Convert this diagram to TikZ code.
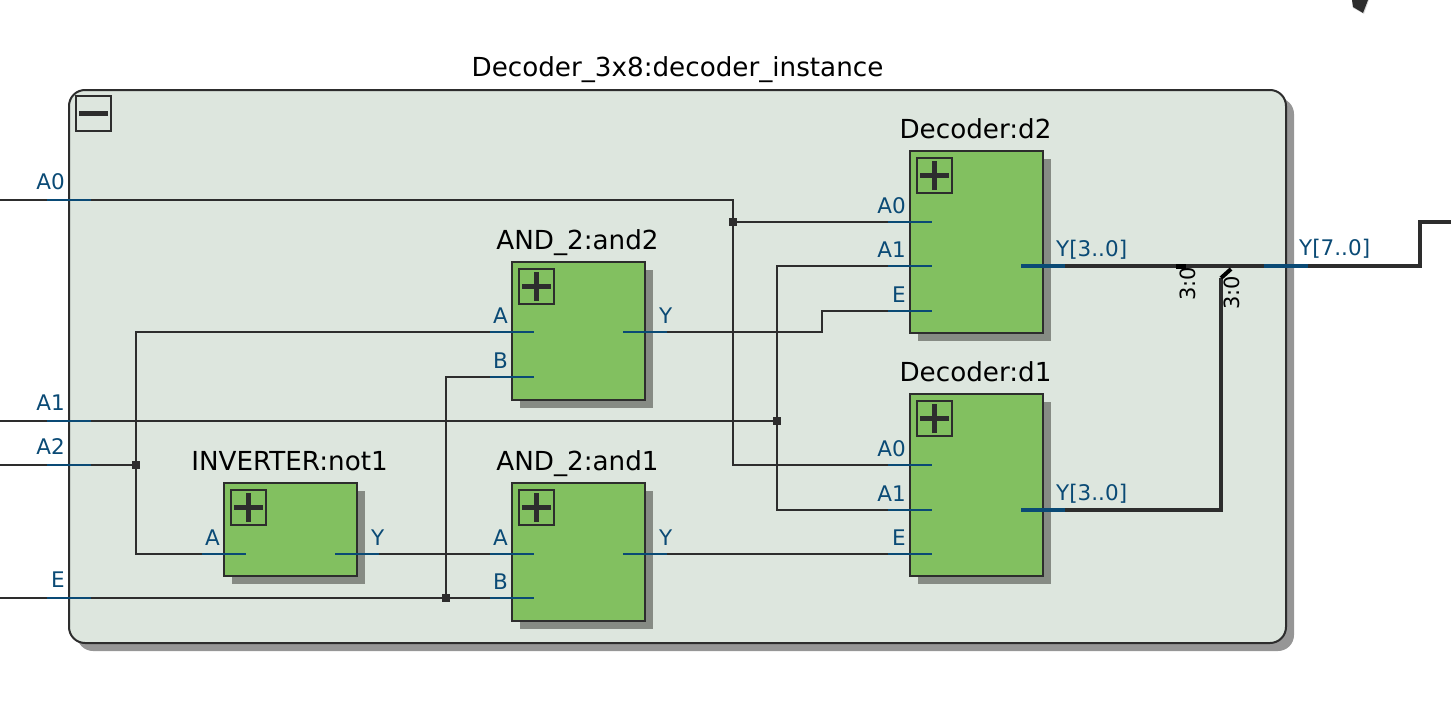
\documentclass[tikz,border=0pt]{standalone}
\usepackage{fontspec}
\setmainfont{DejaVu Sans}
\usetikzlibrary{positioning, shadows}
\definecolor{wirecol}{HTML}{2D2D2D}
\definecolor{pincol}{HTML}{0A4A75}
\definecolor{blockcol}{HTML}{82C060}
\definecolor{maincol}{HTML}{DDE6DE}
\definecolor{shadowcol}{HTML}{969696}
\definecolor{innershadow}{HTML}{868B84}
\begin{document}
\begin{tikzpicture}
	[x=1pt, y=-1pt,%
	main/.style  ={rectangle, rounded corners=16pt, draw=wirecol, fill=maincol, line width=2pt, inner sep=0pt, outer sep=0pt, minimum width=1217pt, minimum height=553pt, anchor=north west, drop shadow={shadow xshift=8pt, shadow yshift=-8pt, fill=shadowcol, opacity=1}},%
	block/.style ={rectangle, draw=wirecol, fill=blockcol, line width=2pt, inner sep=0pt, outer sep=0pt, minimum width=133pt, anchor=north west, drop shadow={shadow xshift=8pt, shadow yshift=-8pt, fill=innershadow, opacity=1}},%
	toggle/.style={rectangle, draw=wirecol, line width=2pt, inner sep=0pt, minimum size=35pt},%
	glyph/.style ={draw=wirecol, line width=5pt},%
	title/.style ={font=\fontsize{26.2}{30}\selectfont, text=black, inner sep=0pt, anchor=base},%
	pinlab/.style={font=\fontsize{21.5}{26}\selectfont, text=pincol, inner sep=0pt},%
	buslab/.style={font=\fontsize{21}{24}\selectfont, text=black, inner sep=0pt, rotate=90},%
	wire/.style  ={draw=wirecol, line width=2pt},%
	bus/.style   ={draw=wirecol, line width=4pt, line join=miter},%
	stub/.style  ={draw=pincol, line width=2pt},%
	busstub/.style={draw=pincol, line width=4pt},%
	joint/.style ={rectangle, fill=wirecol, inner sep=0pt, minimum size=8pt},%
	]

	\useasboundingbox (0,0) rectangle (1451,701);

	% top corner
	\fill [black!15] (1352,0) -- (1353,8) -- (1364,14) -- (1369,0) -- cycle;
	\fill [wirecol] (1352,0) -- (1353,7) -- (1363,13) -- (1368,0) -- cycle;

	% blocks
	\node (decoder) at (69,90) [main] {};
	\node (d2) at (910,151) [block, minimum height=182pt] {};
	\node (d1) at (910,394) [block, minimum height=182pt] {};
	\node (and2) at (512,262) [block, minimum height=138pt] {};
	\node (and1) at (512,483) [block, minimum height=138pt] {};
	\node (not1) at (224,483) [block, minimum height=93pt] {};

	% titles
	\node (decodertitle) at ([yshift=13pt]decoder.north) [title] {Decoder\_3x8:decoder\_instance};
	\foreach \b/\t in {d2/Decoder:d2, d1/Decoder:d1, and2/AND\_2:and2, and1/AND\_2:and1, not1/INVERTER:not1}
		\node (\b title) at ([xshift=-1pt,yshift=12.5pt]\b.north) [title] {\t};

	% toggles
	\node (decodertoggle) at (93.5,113.5) [toggle] {};
	\draw [glyph] ([xshift=-14.5pt]decodertoggle.center) -- ([xshift=14.5pt]decodertoggle.center);
	\foreach \b in {d2,d1,and2,and1,not1} {
		\node (\b toggle) at ([xshift=24.5pt,yshift=-24.5pt]\b.north west) [toggle] {};
		\draw [glyph] ([xshift=-14.5pt]\b toggle.center) -- ([xshift=14.5pt]\b toggle.center);
		\draw [glyph] ([yshift=-14.5pt]\b toggle.center) -- ([yshift=14.5pt]\b toggle.center);
	}

	% pins
	\foreach \n/\x/\y in {%
		inA0/69/200, inA1/69/421, inA2/69/465, inE/69/598,%
		dtwoA0/910/222, dtwoA1/910/266, dtwoE/910/311,%
		doneA0/910/465, doneA1/910/510, doneE/910/554,%
		andtwoA/512/332, andtwoB/512/377,%
		andoneA/512/554, andoneB/512/598,%
		notA/224/554,%
		andtwoY/645/332, andoneY/645/554, notY/357/554,%
		dtwoY/1043/266, doneY/1043/510, outY/1286/266} {
		\coordinate (\n a) at (\x-22,\y);
		\coordinate (\n b) at (\x+22,\y);
		\coordinate (\n) at (\x,\y);
	}

	% free ends
	\coordinate (startA0) at (0,200);
	\coordinate (startA1) at (0,421);
	\coordinate (startA2) at (0,465);
	\coordinate (startE) at (0,598);
	\coordinate (endY) at (1451,222);
	\coordinate (bendY) at (1420,266);
	\coordinate (bendE) at (822,311);
	\coordinate (tapY) at (1221,278);
	\coordinate (tapZ) at (1231,269);
	\coordinate (tickA) at (1176,266.5);
	\coordinate (tickB) at (1186,266.5);

	% junctions
	\node (jA0) at (733,222) [joint] {};
	\node (jA1) at (777,421) [joint] {};
	\node (jA2) at (136,465) [joint] {};
	\node (jE) at (446,598) [joint] {};

	% interconnections
	\draw [wire] (startA0) -| (jA0.center) |- (doneA0);
	\draw [wire] (jA0.center) -- (dtwoA0);
	\draw [wire] (startA1) -- (jA1.center);
	\draw [wire] (dtwoA1) -| (jA1.center) |- (doneA1);
	\draw [wire] (startA2) -- (jA2.center);
	\draw [wire] (andtwoA) -| (jA2.center) |- (notA);
	\draw [wire] (startE) -- (andoneB);
	\draw [wire] (jE.center) |- (andtwoB);
	\draw [wire] (notY) -- (andoneA);
	\draw [wire] (andoneY) -- (doneE);
	\draw [wire] (andtwoY) -| (bendE) -- (dtwoE);

	% buses
	\draw [bus] (dtwoY) -- (bendY) |- (endY);
	\draw [bus] (doneY) -| (tapY);
	\draw [line width=4pt, draw=black] (tapY) -- (tapZ);
	\draw [line width=5pt, draw=black] (tickA) -- (tickB);
	\node (split2) at (1188,284) [buslab] {3:0};
	\node (split1) at (1232,293) [buslab] {3:0};

	% pin stubs and labels
	\foreach \n/\t in {inA0/A0, inA1/A1, inA2/A2, inE/E} {
		\draw [stub] (\n a) -- (\n b);
		\node (\n lab) at ([xshift=-4pt,yshift=11pt]\n) [pinlab, anchor=base east] {\t};
	}
	\foreach \n/\t in {dtwoA0/A0, dtwoA1/A1, dtwoE/E, doneA0/A0, doneA1/A1, doneE/E, andtwoA/A, andtwoB/B, andoneA/A, andoneB/B, notA/A} {
		\draw [stub] (\n a) -- (\n b);
		\node (\n lab) at ([xshift=-4pt,yshift=9pt]\n) [pinlab, anchor=base east] {\t};
	}
	\foreach \n in {andtwoY, andoneY, notY} {
		\draw [stub] (\n a) -- (\n b);
		\node (\n lab) at ([xshift=14pt,yshift=9pt]\n) [pinlab, anchor=base west] {Y};
	}
	\foreach \n/\t/\s in {dtwoY/{Y[3..0]}/10, doneY/{Y[3..0]}/10, outY/{Y[7..0]}/11} {
		\draw [busstub] (\n a) -- (\n b);
		\node (\n lab) at ([xshift=13pt,yshift=\s pt]\n) [pinlab, anchor=base west] {\t};
	}

\end{tikzpicture}
\end{document}
